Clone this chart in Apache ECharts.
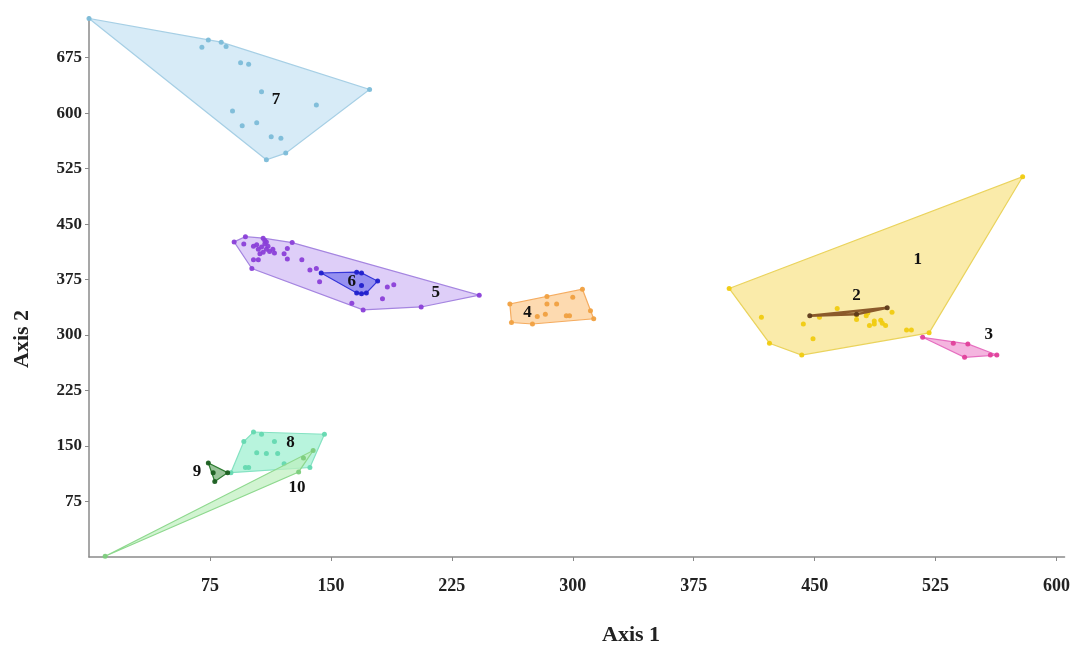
<!DOCTYPE html>
<html>
<head>
<meta charset="utf-8">
<script src="https://cdn.jsdelivr.net/npm/echarts@6/dist/echarts.min.js"></script>
<style>
  html, body { margin: 0; padding: 0; background: #fff; }
  #chart { width: 1073px; height: 649px; }
</style>
</head>
<body>
<div id="chart"></div>
<script>
// ── DATA ───────────────────────────────────────────
// each group: [axis1, axis2] points, hull drawn round them
const g1 = [[397, 363], [579, 514], [417, 324], [422, 289], [442, 273], [443, 315], [449, 295], [464, 336],
  [453, 324], [476, 321], [482, 326], [484, 313], [487, 319], [491, 320], [492, 316], [494, 313], [487, 315],
  [476, 327], [483, 330], [498, 331], [507, 307], [510, 307], [521, 303]];
const g2 = [[447, 326], [476, 328], [495, 337]];
const g3 = [[517, 297], [536, 289], [545, 288], [559, 273], [563, 273], [543, 270]];
const g4 = [[261, 342], [284, 352], [306, 362], [300, 351], [284, 342], [290, 342], [311, 333], [313, 322],
  [262, 317], [275, 315], [278, 325], [283, 328], [296, 326], [298, 326]];
const g5 = [[90, 426], [97, 433], [96, 423], [108, 431], [102, 420], [104, 422], [105, 416], [107, 419],
  [109, 423], [111, 420], [110, 416], [112, 413], [114, 416], [115, 411], [108, 412], [106, 410], [109, 428],
  [110, 426], [126, 425], [123, 417], [121, 410], [123, 403], [132, 402], [102, 402], [105, 402], [101, 390],
  [137, 388], [141, 390], [143, 372], [163, 343], [170, 334], [182, 349], [185, 365], [189, 368], [206, 338],
  [242, 354]];
const g6 = [[144, 384], [166, 385], [169, 384], [179, 373], [169, 367], [172, 357], [166, 357], [169, 356]];
const g7 = [[0, 728], [74, 699], [82, 696], [85, 690], [70, 689], [94, 668], [99, 666], [107, 629], [141, 611],
  [174, 632], [89, 603], [95, 583], [104, 587], [113, 568], [119, 566], [122, 546], [110, 537]];
const g8 = [[102, 169], [107, 166], [146, 166], [137, 121], [88, 114], [96, 156], [115, 156], [104, 141],
  [110, 140], [117, 140], [97, 121], [99, 121], [121, 126]];
const g9 = [[74, 127], [77, 114], [86, 114], [78, 102]];
const g10 = [[10, 1], [139, 144], [130, 115], [133, 134]];

const groupNames = ['1', '2', '3', '4', '5', '6', '7', '8', '9', '10'];
const labelPos = [[514, 402], [476, 354], [558, 300], [272, 330], [215, 357], [163, 372], [116, 618], [125, 155], [67, 115], [129, 94]];

const xTicks = [75, 150, 225, 300, 375, 450, 525, 600];
const yTicks = [75, 150, 225, 300, 375, 450, 525, 600, 675];

// ── STYLE ──────────────────────────────────────────
const FONT = '"Liberation Serif", "Times New Roman", serif';
// fill, stroke, point colour per group
const looks = {
  1: ['rgba(246,218,100,0.55)', '#ead35c', '#f0cb10'],
  2: ['rgba(139,90,43,0.4)', '#8b5a2b', '#5d3a1a'],
  3: ['rgba(240,150,210,0.7)', '#e66fc0', '#e0409a'],
  4: ['rgba(252,205,150,0.75)', '#f5ac60', '#f0a040'],
  5: ['rgba(208,185,245,0.7)', '#a585e0', '#8a3fd8'],
  6: ['rgba(110,110,235,0.65)', '#3535d8', '#2020cc'],
  7: ['rgba(205,230,245,0.8)', '#a6cfe5', '#7cbcd8'],
  8: ['rgba(160,240,210,0.75)', '#85e2c2', '#64d8b0'],
  9: ['rgba(110,170,110,0.7)', '#2e7d32', '#1b5e20'],
  10: ['rgba(190,240,190,0.7)', '#8ed88e', '#7ccc7c'],
};

function convexHull(pts) {
  const p = pts.slice().sort((a, b) => a[0] - b[0] || a[1] - b[1]);
  const cross = (o, a, b) => (a[0] - o[0]) * (b[1] - o[1]) - (a[1] - o[1]) * (b[0] - o[0]);
  const lower = [], upper = [];
  for (const q of p) {
    while (lower.length >= 2 && cross(lower[lower.length - 2], lower[lower.length - 1], q) <= 0) lower.pop();
    lower.push(q);
  }
  for (let i = p.length - 1; i >= 0; i--) {
    const q = p[i];
    while (upper.length >= 2 && cross(upper[upper.length - 2], upper[upper.length - 1], q) <= 0) upper.pop();
    upper.push(q);
  }
  upper.pop(); lower.pop();
  return lower.concat(upper);
}

function hullSeries(name, pts, z) {
  const [fill, stroke] = looks[name];
  const hull = convexHull(pts);
  return {
    type: 'custom', silent: true, z,
    data: [hull[0]],
    renderItem: (params, api) => ({
      type: 'polygon',
      shape: { points: hull.map(p => api.coord(p)) },
      style: { fill, stroke, lineWidth: name === '2' ? 2.5 : 1.2 },
    }),
  };
}

function pointSeries(name, pts, z) {
  return {
    type: 'scatter', silent: true, z,
    data: pts, symbolSize: 5,
    itemStyle: { color: looks[name][2], opacity: 0.95 },
  };
}

const groups = [['7', g7, 1], ['5', g5, 2], ['6', g6, 3], ['1', g1, 2], ['2', g2, 3], ['3', g3, 3],
  ['4', g4, 2], ['8', g8, 2], ['10', g10, 3], ['9', g9, 4]];

const series = [];
groups.forEach(([name, pts, z]) => {
  series.push(hullSeries(name, pts, z));
  series.push(pointSeries(name, pts, z + 0.5));
});
// group numbers
series.push({
  type: 'custom', silent: true, z: 10,
  data: labelPos.map((p, i) => [p[0], p[1], groupNames[i]]),
  renderItem: (params, api) => {
    const pt = api.coord([api.value(0), api.value(1)]);
    return {
      type: 'text',
      x: pt[0], y: pt[1],
      style: {
        text: groupNames[params.dataIndex], align: 'center', verticalAlign: 'middle',
        font: `bold 17px ${FONT}`, fill: '#111',
      },
    };
  },
});

// ── CHART ──────────────────────────────────────────
const chart = echarts.init(document.getElementById('chart'));
const axisLine = { show: true, lineStyle: { color: '#8a8a8a', width: 1.5 } };
chart.setOption({
  backgroundColor: '#fff',
  animation: false,
  grid: { left: 89, right: 5, top: 17, bottom: 92 },
  xAxis: {
    type: 'value', min: 0, max: 605, interval: 75, splitLine: { show: false }, axisLine,
    axisTick: { show: true, length: 4, customValues: xTicks, lineStyle: { color: '#8a8a8a' } },
    axisLabel: { margin: 20, customValues: xTicks, fontFamily: FONT, fontWeight: 'bold', fontSize: 18, color: '#222' },
  },
  yAxis: {
    type: 'value', min: 0, max: 730, interval: 75, splitLine: { show: false }, axisLine,
    axisTick: { show: true, length: 4, customValues: yTicks, lineStyle: { color: '#8a8a8a' } },
    axisLabel: { margin: 7, customValues: yTicks, fontFamily: FONT, fontWeight: 'bold', fontSize: 17, color: '#222' },
  },
  graphic: [
    { type: 'text', left: 602, top: 624, style: { text: 'Axis 1', font: `bold 22px ${FONT}`, fill: '#222' } },
    { type: 'text', x: 11, y: 368, rotation: Math.PI / 2, style: { text: 'Axis 2', font: `bold 22px ${FONT}`, fill: '#222' } },
  ],
  series,
});
</script>
</body>
</html>
